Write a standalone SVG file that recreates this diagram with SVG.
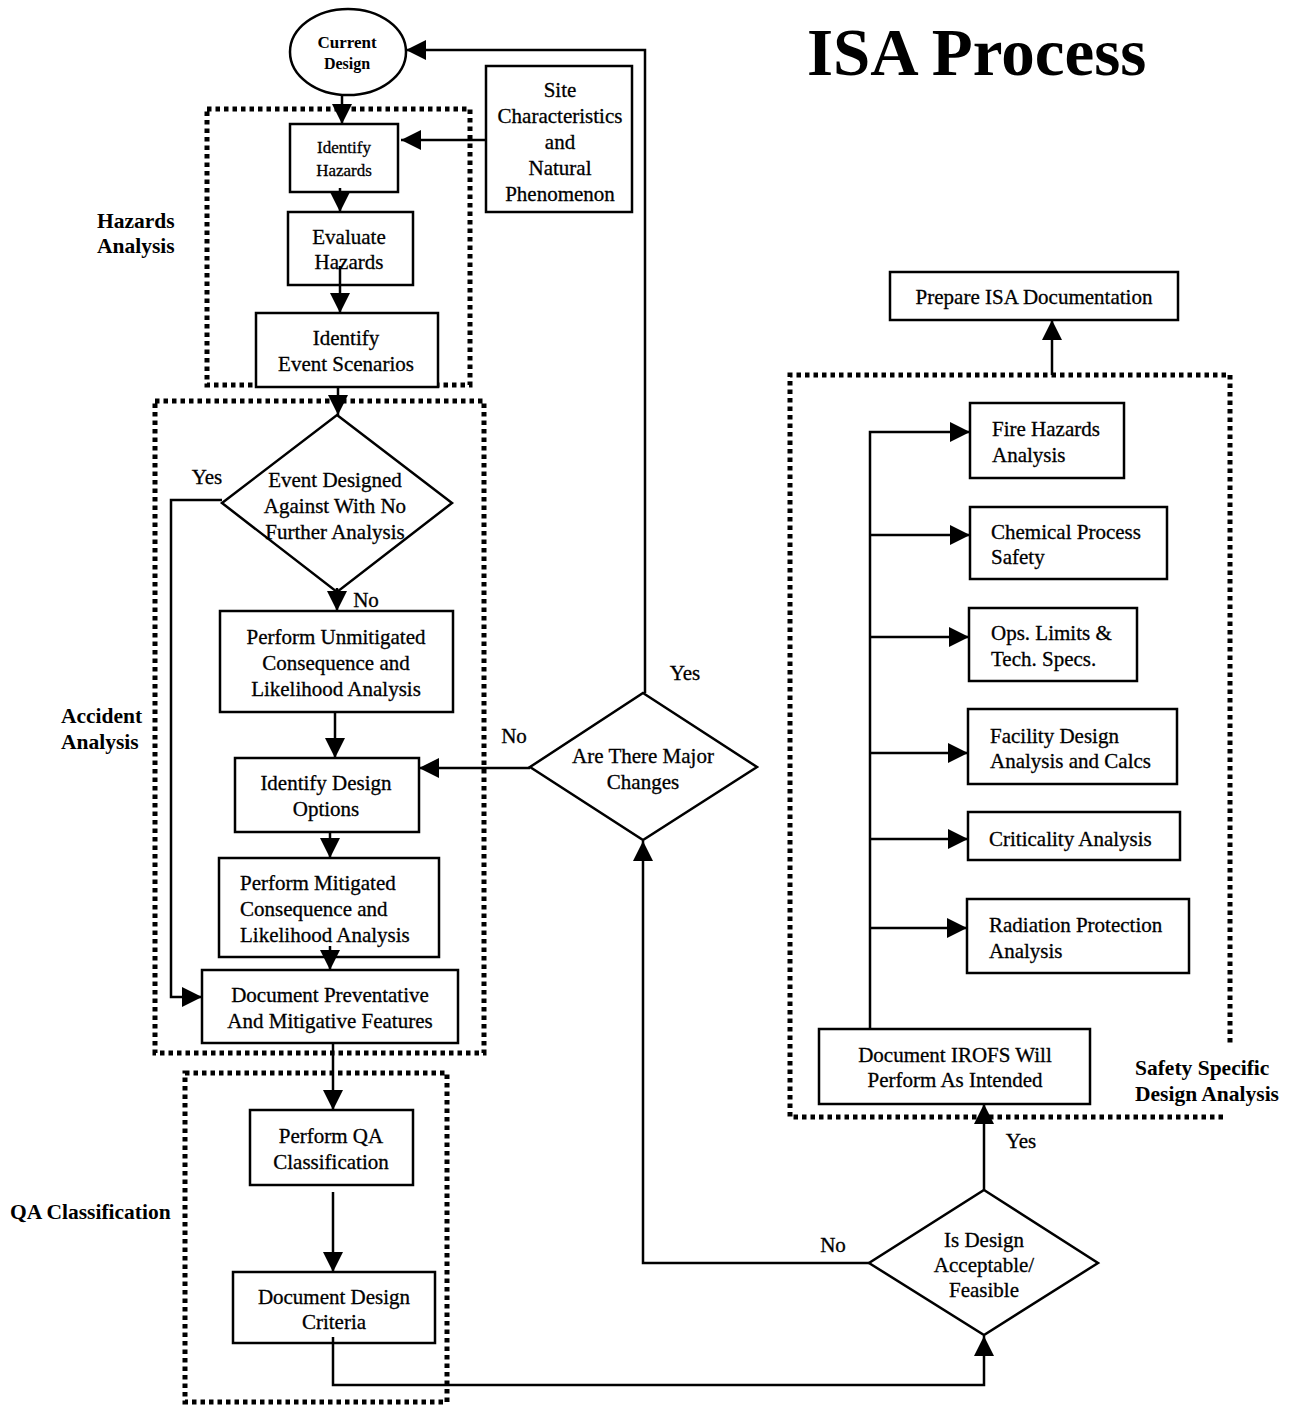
<svg xmlns="http://www.w3.org/2000/svg" width="1290" height="1410" viewBox="0 0 1290 1410">
  <style>
    text { font-family: "Liberation Serif", "Times New Roman", serif; fill: #000; }
    .t, .tl, .sm, .yn { stroke: #000; stroke-width: 0.3; }
    .t { font-size: 21px; text-anchor: middle; }
    .tl { font-size: 21px; text-anchor: start; }
    .sm { font-size: 17px; text-anchor: middle; }
    .smb { font-size: 17px; font-weight: bold; text-anchor: middle; }
    .lab { font-size: 21.5px; font-weight: bold; }
    .yn { font-size: 21px; text-anchor: middle; }
    .title { font-size: 67px; font-weight: bold; }
    .box { fill: #fff; stroke: #000; stroke-width: 2.5; }
    .frame { fill: none; stroke: #000; stroke-width: 5; stroke-dasharray: 4.5 4; }
    .conn { fill: none; stroke: #000; stroke-width: 2.5; }
    .arr { marker-end: url(#head); }
  </style>
  <defs>
    <marker id="head" viewBox="0 0 20 20" refX="20" refY="10" markerWidth="20" markerHeight="20" markerUnits="userSpaceOnUse" orient="auto">
      <path d="M0,0 L20,10 L0,20 z" fill="#000"/>
    </marker>
  </defs>
  <rect width="1290" height="1410" fill="#fff"/>

  <!-- Title -->
  <text class="title" x="807" y="75">ISA Process</text>

  <!-- Dotted phase frames and their captions -->
  <g id="frames">
    <rect class="frame" x="207" y="109" width="263" height="276"/>
    <rect class="frame" x="155" y="401" width="329" height="652"/>
    <rect class="frame" x="185" y="1073" width="262" height="329"/>
    <path class="frame" d="M1223,1117 L790,1117 L790,375 L1230,375 L1230,1043"/>
    <text class="lab" x="97" y="228">Hazards</text>
    <text class="lab" x="97" y="253">Analysis</text>
    <text class="lab" x="61" y="723">Accident</text>
    <text class="lab" x="61" y="749">Analysis</text>
    <text class="lab" x="10" y="1219">QA Classification</text>
    <text class="lab" x="1135" y="1075">Safety Specific</text>
    <text class="lab" x="1135" y="1101">Design Analysis</text>
  </g>

  <!-- Nodes -->
  <g id="current-design">
    <ellipse class="box" cx="348" cy="52" rx="58" ry="43"/>
    <text class="smb" x="347" y="48">Current</text>
    <text class="smb" x="347" y="69" style="font-size:16px">Design</text>
  </g>
  <g id="site-characteristics">
    <rect class="box" x="486" y="66" width="146" height="146"/>
    <text class="t" x="560" y="97">Site</text>
    <text class="t" x="560" y="123">Characteristics</text>
    <text class="t" x="560" y="149">and</text>
    <text class="t" x="560" y="175">Natural</text>
    <text class="t" x="560" y="201">Phenomenon</text>
  </g>
  <g id="identify-hazards">
    <rect class="box" x="290" y="124" width="108" height="68"/>
    <text class="sm" x="344" y="153">Identify</text>
    <text class="sm" x="344" y="176">Hazards</text>
  </g>
  <g id="evaluate-hazards">
    <rect class="box" x="288" y="212" width="125" height="73"/>
    <text class="t" x="349" y="244">Evaluate</text>
    <text class="t" x="349" y="269">Hazards</text>
  </g>
  <g id="identify-event-scenarios">
    <rect class="box" x="256" y="313" width="182" height="74"/>
    <text class="t" x="346" y="345">Identify</text>
    <text class="t" x="346" y="371">Event Scenarios</text>
  </g>
  <g id="event-designed-against">
    <polygon class="box" points="337,415 452,503 337,592 222,503"/>
    <text class="t" x="335" y="487">Event Designed</text>
    <text class="t" x="335" y="513">Against With No</text>
    <text class="t" x="335" y="539">Further Analysis</text>
  </g>
  <g id="unmitigated-analysis">
    <rect class="box" x="220" y="611" width="233" height="101"/>
    <text class="t" x="336" y="644">Perform Unmitigated</text>
    <text class="t" x="336" y="670">Consequence and</text>
    <text class="t" x="336" y="696">Likelihood Analysis</text>
  </g>
  <g id="identify-design-options">
    <rect class="box" x="235" y="758" width="184" height="74"/>
    <text class="t" x="326" y="790">Identify Design</text>
    <text class="t" x="326" y="816">Options</text>
  </g>
  <g id="mitigated-analysis">
    <rect class="box" x="219" y="858" width="220" height="99"/>
    <text class="tl" x="240" y="890">Perform Mitigated</text>
    <text class="tl" x="240" y="916">Consequence and</text>
    <text class="tl" x="240" y="942">Likelihood Analysis</text>
  </g>
  <g id="document-features">
    <rect class="box" x="202" y="970" width="256" height="73"/>
    <text class="t" x="330" y="1002">Document Preventative</text>
    <text class="t" x="330" y="1028">And Mitigative Features</text>
  </g>
  <g id="qa-classification">
    <rect class="box" x="250" y="1110" width="163" height="75"/>
    <text class="t" x="331" y="1143">Perform QA</text>
    <text class="t" x="331" y="1169">Classification</text>
  </g>
  <g id="design-criteria">
    <rect class="box" x="233" y="1272" width="202" height="71"/>
    <text class="t" x="334" y="1304">Document Design</text>
    <text class="t" x="334" y="1329">Criteria</text>
  </g>
  <g id="major-changes">
    <polygon class="box" points="643,693 757,767 643,840 530,767"/>
    <text class="t" x="643" y="763">Are There Major</text>
    <text class="t" x="643" y="789">Changes</text>
  </g>
  <g id="design-acceptable">
    <polygon class="box" points="984,1190 1098,1263 984,1335 869,1263"/>
    <text class="t" x="984" y="1247">Is Design</text>
    <text class="t" x="984" y="1272">Acceptable/</text>
    <text class="t" x="984" y="1297">Feasible</text>
  </g>
  <g id="prepare-isa-documentation">
    <rect class="box" x="890" y="272" width="288" height="48"/>
    <text class="t" x="1034" y="304">Prepare ISA Documentation</text>
  </g>
  <g id="fire-hazards">
    <rect class="box" x="970" y="403" width="154" height="75"/>
    <text class="tl" x="992" y="436">Fire Hazards</text>
    <text class="tl" x="992" y="462">Analysis</text>
  </g>
  <g id="chemical-process-safety">
    <rect class="box" x="970" y="507" width="197" height="72"/>
    <text class="tl" x="991" y="539">Chemical Process</text>
    <text class="tl" x="991" y="564">Safety</text>
  </g>
  <g id="ops-limits">
    <rect class="box" x="969" y="608" width="168" height="73"/>
    <text class="tl" x="991" y="640">Ops. Limits &amp;</text>
    <text class="tl" x="991" y="666">Tech. Specs.</text>
  </g>
  <g id="facility-design">
    <rect class="box" x="968" y="709" width="209" height="75"/>
    <text class="tl" x="990" y="743">Facility Design</text>
    <text class="tl" x="990" y="768">Analysis and Calcs</text>
  </g>
  <g id="criticality-analysis">
    <rect class="box" x="968" y="812" width="212" height="48"/>
    <text class="tl" x="989" y="846">Criticality Analysis</text>
  </g>
  <g id="radiation-protection">
    <rect class="box" x="967" y="899" width="222" height="74"/>
    <text class="tl" x="989" y="932">Radiation Protection</text>
    <text class="tl" x="989" y="958">Analysis</text>
  </g>
  <g id="document-irofs">
    <rect class="box" x="819" y="1029" width="271" height="75"/>
    <text class="t" x="955" y="1062">Document IROFS Will</text>
    <text class="t" x="955" y="1087">Perform As Intended</text>
  </g>

  <!-- Connectors -->
  <g id="connectors">
    <path class="conn arr" d="M342,95 L342,124"/>
    <path class="conn arr" d="M486,140 L401,140"/>
    <path class="conn arr" d="M340,188 L340,212"/>
    <path class="conn arr" d="M340,266 L340,313"/>
    <path class="conn arr" d="M338,387 L338,415"/>
    <path class="conn arr" d="M337,588 L337,611"/>
    <path class="conn arr" d="M222,500 L171,500 L171,997 L202,997"/>
    <path class="conn arr" d="M335,712 L335,758"/>
    <path class="conn arr" d="M530,768 L419,768"/>
    <path class="conn arr" d="M330,832 L330,858"/>
    <path class="conn arr" d="M330,946 L330,970"/>
    <path class="conn arr" d="M333,1043 L333,1110"/>
    <path class="conn arr" d="M333,1192 L333,1272"/>
    <path class="conn arr" d="M333,1337 L333,1385 L984,1385 L984,1336"/>
    <path class="conn arr" d="M869,1263 L643,1263 L643,841"/>
    <path class="conn arr" d="M984,1190 L984,1104"/>
    <path class="conn arr" d="M645,693 L645,50 L406,50"/>
    <path class="conn arr" d="M870,1029 L870,432 L970,432"/>
    <path class="conn arr" d="M870,535 L970,535"/>
    <path class="conn arr" d="M870,637 L969,637"/>
    <path class="conn arr" d="M870,753 L968,753"/>
    <path class="conn arr" d="M870,839 L968,839"/>
    <path class="conn arr" d="M870,928 L967,928"/>
    <path class="conn arr" d="M1052,375 L1052,320"/>
    <text class="yn" x="207" y="484">Yes</text>
    <text class="yn" x="366" y="607">No</text>
    <text class="yn" x="685" y="680">Yes</text>
    <text class="yn" x="514" y="743">No</text>
    <text class="yn" x="833" y="1252">No</text>
    <text class="yn" x="1021" y="1148">Yes</text>
  </g>
</svg>
